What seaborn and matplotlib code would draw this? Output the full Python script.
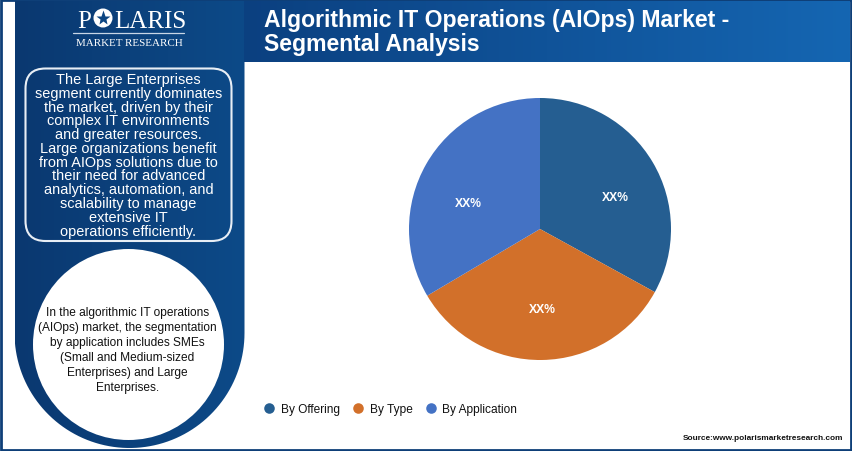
import numpy as np
import matplotlib
matplotlib.use("Agg")
import matplotlib.pyplot as plt
import seaborn as sns
from matplotlib.colors import LinearSegmentedColormap
from matplotlib.lines import Line2D
from matplotlib.patches import Circle, FancyBboxPatch, PathPatch, Rectangle
from matplotlib.path import Path

categories = ["By Offering", "By Type", "By Application"]
values = [33, 33.5, 33.5]
value_labels = ["XX%", "XX%", "XX%"]
colors = ["#255E91", "#D2702A", "#4472C4"]
title_lines = ["Algorithmic IT Operations (AIOps) Market -", "Segmental Analysis"]
box_lines = [
    "The Large Enterprises", "segment currently dominates", "the market, driven by their",
    "complex IT environments", "and greater resources.", "Large organizations benefit",
    "from AIOps solutions due to", "their need for advanced",
    "analytics, automation, and", "scalability to manage", "extensive IT",
    "operations efficiently.",
]
circle_lines = [
    "In the algorithmic IT operations", "(AIOps) market, the segmentation",
    "by application includes SMEs", "(Small and Medium-sized",
    "Enterprises) and Large", "Enterprises.",
]
source_text = "Source:www.polarismarketresearch.com"

W, H = 852, 452
sns.set_theme(style="white")
plt.rcParams["font.family"] = ["Liberation Sans", "DejaVu Sans"]

fig = plt.figure(figsize=(W / 100, H / 100), dpi=100, facecolor="white")
bg = fig.add_axes([0, 0, 1, 1])
bg.set_xlim(0, W)
bg.set_ylim(H, 0)
bg.axis("off")

# frame
bg.add_patch(Rectangle((1, 1), W - 2, H - 2.5, fc="white", ec="#0E3F78", lw=2.0, zorder=0))

# left panel with rounded bottom
panel_cmap = LinearSegmentedColormap.from_list("panel", ["#0A3870", "#0D4A88"])
header_cmap = LinearSegmentedColormap.from_list("header", ["#0B4080", "#1566B2"])
grad = np.linspace(0, 1, 256).reshape(1, -1)
cx, cy, r = 129.5, 334, 115
theta = np.linspace(np.pi, 0, 80)
verts = [(cx - r, 2)] + [(cx + r * np.cos(t), cy + r * np.sin(t)) for t in theta] + [(cx + r, 2), (cx - r, 2)]
im = bg.imshow(grad, extent=(cx - r, cx + r, 450, 2), aspect="auto", cmap=panel_cmap, zorder=1)
im.set_clip_path(PathPatch(Path(verts), transform=bg.transData))

# header band
bg.imshow(grad, extent=(244, 850, 62.5, 2), aspect="auto", cmap=header_cmap, zorder=1)
bg.set_xlim(0, W)
bg.set_ylim(H, 0)

# logo
logo = dict(family="Liberation Serif", color="white", ha="left", va="baseline", zorder=3)
bg.text(77, 28, "P", fontsize=18, **logo)
bg.add_patch(Circle((103, 19), 9.5, fc="white", ec="none", zorder=3))
bg.plot([103], [19], marker="*", ms=11, color="#0C4582", mec="none", zorder=4)
bg.text(114, 28, "LARIS", fontsize=18, **logo)
bg.plot([73, 184], [34, 34], color="#C9D6E6", lw=0.9, zorder=3)
bg.text(129, 43, "MARKET RESEARCH", fontsize=7.9, family="Liberation Serif", color="white",
        ha="center", va="center", zorder=3)

# title
for i, line in enumerate(title_lines):
    bg.text(264, 21 + i * 23.5, line, fontsize=16.6, fontweight="bold", color="white",
            ha="left", va="center", zorder=3)

# rounded text box
bg.add_patch(FancyBboxPatch((41, 85), 175, 141.5, boxstyle="round,pad=15.5,rounding_size=20",
                            fc="none", ec="#E8EEF5", lw=1.5, zorder=3))
for i, line in enumerate(box_lines):
    bg.text(128.5, 80 + i * 13.78, line, fontsize=10.45, color="white", ha="center",
            va="center", zorder=3)

# white circle
bg.add_patch(Circle((128.5, 345.5), 95.5, fc="white", ec="none", zorder=2))
for i, line in enumerate(circle_lines):
    bg.text(127.5, 313 + i * 15.0, line, fontsize=8.6, color="#111111", ha="center",
            va="center", zorder=3)

# pie
pcx, pcy, pr, half = 540, 230, 131, 140
pie_ax = fig.add_axes([(pcx - half) / W, 1 - (pcy + half) / H, 2 * half / W, 2 * half / H])
pie_ax.patch.set_alpha(0)
wedges, _ = pie_ax.pie(values, colors=sns.color_palette(colors), startangle=90, counterclock=False,
                       radius=1, wedgeprops=dict(linewidth=0))
pie_ax.set_xlim(-half / pr, half / pr)
pie_ax.set_ylim(-half / pr, half / pr)
for lab, (x, y) in zip(value_labels, [(0.575, 0.245), (0.02, -0.61), (-0.545, 0.2)]):
    pie_ax.text(x, y, lab, color="white", fontsize=8.7, fontweight="bold", ha="center", va="center")

# legend
handles = [Line2D([], [], linestyle="none", marker="o", ms=7.6, color=c, mec="none") for c in colors]
fig.legend(handles, categories, loc="center left", bbox_to_anchor=(257 / W, 1 - 410 / H), ncol=3,
           frameon=False, fontsize=8.6, handletextpad=0.0, columnspacing=0.5, labelcolor="#111111",
           borderpad=0, borderaxespad=0)

# source
bg.text(843, 439, source_text, fontsize=5.95, fontweight="bold", color="#111111", ha="right", va="center",
        zorder=3)

fig.savefig("out.png", dpi=100)
